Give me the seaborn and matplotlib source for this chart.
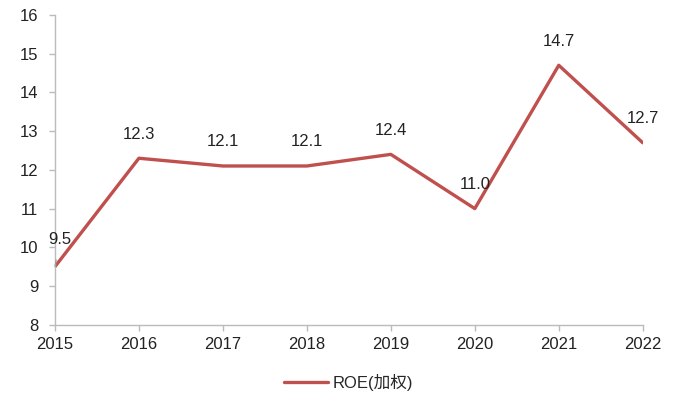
import matplotlib
matplotlib.use("Agg")
import matplotlib.pyplot as plt
import seaborn as sns
import pandas as pd

# 数据
years = [2015, 2016, 2017, 2018, 2019, 2020, 2021, 2022]
roe = [9.5, 12.3, 12.1, 12.1, 12.4, 11.0, 14.7, 12.7]
series_name = "ROE(加权)"

df = pd.DataFrame({"year": years, "roe": roe})

sns.set_style("white")
plt.rcParams["font.family"] = ["Liberation Sans", "Noto Sans CJK SC", "DejaVu Sans"]

fig = plt.figure(figsize=(6.78, 4.03), dpi=100)
ax = fig.add_axes([0.081, 0.194, 0.867, 0.769])

line_color = "#C0504D"
sns.lineplot(data=df, x="year", y="roe", color=line_color, linewidth=2.4,
             label=series_name, ax=ax)

# 数据标签
for i, (x, y) in enumerate(zip(years, roe)):
    if i == 0:
        ax.annotate(f"{y:.1f}", xy=(x, y), xytext=(x + 0.06, y + 0.7),
                    ha="center", va="center", fontsize=12, color="#222222",
                    arrowprops=dict(arrowstyle="-", color="#999999", lw=0.8,
                                    shrinkA=7, shrinkB=0))
    else:
        ax.annotate(f"{y:.1f}", xy=(x, y), xytext=(0, 12), textcoords="offset points",
                    ha="center", va="bottom", fontsize=12, color="#222222")

ax.set_xlim(2015, 2022)
ax.set_ylim(8, 16)
ax.set_xticks(years)
ax.set_yticks(range(8, 17))
ax.set_xlabel("")
ax.set_ylabel("")
ax.tick_params(axis="both", labelsize=12, labelcolor="#222222", direction="out",
               length=4, width=1.0, color="#BBBBBB", bottom=True, left=True)
ax.tick_params(axis="x", pad=5)
ax.tick_params(axis="y", pad=8)

for s in ["top", "right"]:
    ax.spines[s].set_visible(False)
for s in ["left", "bottom"]:
    ax.spines[s].set_color("#BBBBBB")
    ax.spines[s].set_linewidth(1.0)

ax.legend(loc="center", bbox_to_anchor=(0.5, -0.185), frameon=False,
          fontsize=12, handlelength=2.6, handletextpad=0.3)

fig.savefig("out.png", dpi=100)
